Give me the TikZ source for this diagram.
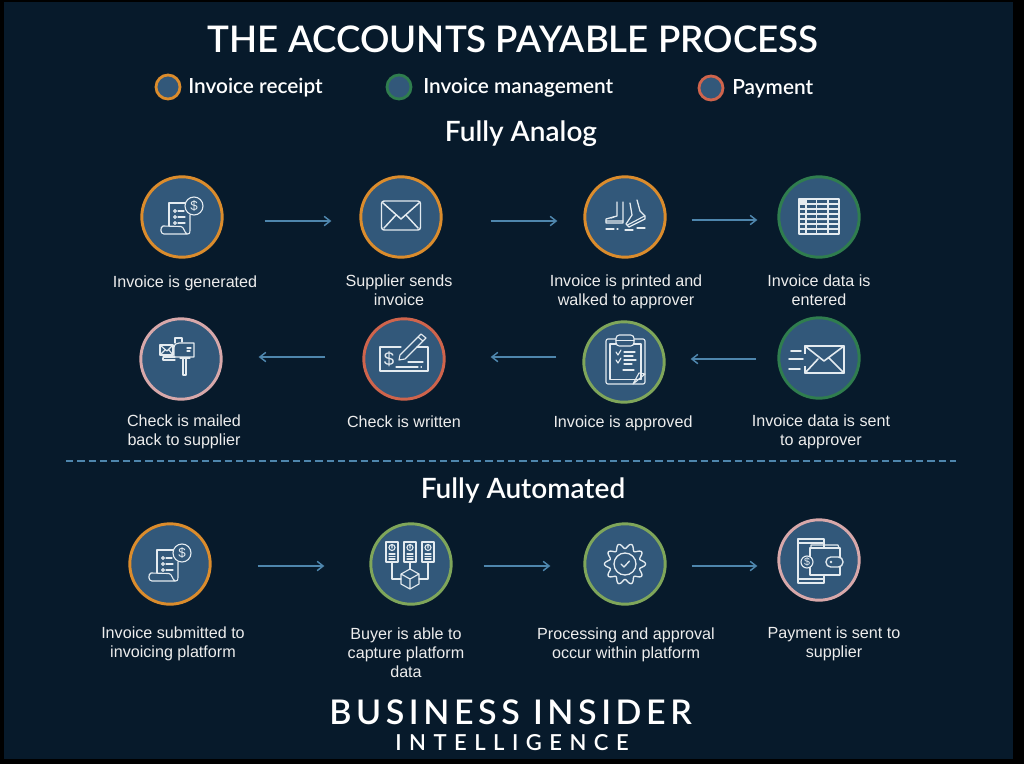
\documentclass[tikz,border=0pt]{standalone}
\usepackage{fontspec}
\setmainfont{Liberation Sans}
\newfontfamily\headfont{Lato Semibold}
\newfontfamily\brandfont[LetterSpace=13.5]{Lato Semibold}
\newfontfamily\brandfontb[LetterSpace=34]{Lato Semibold}
\usetikzlibrary{arrows.meta,calc}
\definecolor{pagebg}{HTML}{071A2B}
\definecolor{discfill}{HTML}{32587A}
\definecolor{oran}{HTML}{DB8C2C}
\definecolor{dgreen}{HTML}{2F7D4E}
\definecolor{lgreen}{HTML}{7FA65A}
\definecolor{pinkc}{HTML}{D8A8AA}
\definecolor{redc}{HTML}{CF644C}
\definecolor{arrowc}{HTML}{4E86AD}
\definecolor{iconc}{HTML}{E4EBF0}
\tikzset{
  disc/.style={circle,draw=#1,fill=discfill,line width=2.2pt,minimum size=60.3pt,inner sep=0pt},
  legenddisc/.style={circle,draw=#1,fill=discfill,line width=2.1pt,minimum size=18pt,inner sep=0pt},
  flow/.style={draw=arrowc,line width=1.1pt,-{Straight Barb[length=4.5pt,width=7pt,line width=1.1pt]}},
  lab/.style={text=white!93!black,align=center,font=\fontsize{12.1}{14.3}\selectfont,inner sep=0pt},
  legendt/.style={text=white,anchor=west,inner sep=0pt,font=\headfont\fontsize{15.6}{18}\selectfont},
  head/.style={text=white,inner sep=0pt,font=\headfont\fontsize{21}{24}\selectfont},
  ic/.style={draw=iconc,line width=0.85pt,line cap=round,line join=round},
  dollar/.style={text=iconc,inner sep=0pt},
}
\newcommand{\icinvoice}[1]{%
  \draw[ic] (3,-14) -- (-13,-14) -- (-13,9);
  \draw[ic] (-19,9) .. controls (-22,10) and (-22,17) .. (-18,17) -- (5,17) .. controls (2,15) and (2,10) .. (-1,9.5) -- (-19,9);
  \draw[ic] (5,17) .. controls (7,18) and (8,16) .. (8,13) -- (8,-2);
  \draw[ic] (-7,-6) circle[radius=1.4] (-7,0) circle[radius=1.4] (-7,6) circle[radius=1.4];
  \draw[ic] (-4,-6) -- (2,-6) (-4,0) -- (3,0) (-4,6) -- (3,6);
  \draw[ic,fill=discfill] (12,-11) circle[radius=9];
  \node[dollar,font=\fontsize{10}{10}\selectfont] (#1) at (12,-11) {\$};
}
\newcommand{\icenvelope}{%
  \draw[ic,line width=1.1pt,rounded corners=2pt] (-19.5,-16) rectangle (19.5,13);
  \draw[ic,line width=1.1pt] (-18,-14) -- (0,2) -- (18,-14) (-17,11) -- (-5,-2) (17,11) -- (5,-2);
}
\newcommand{\icshoes}{%
  \draw[ic,line width=0.95pt] (-8,-15) -- (-8,-1) -- (-19,2) -- (-19,6) -- (-2,6) -- (-2,-15);
  \draw[ic] (-19,4) -- (-2,4) (-14,1) -- (-11,0);
  \draw[ic,line width=0.95pt] (5,-14) -- (7,-2) -- (1,7) -- (4,10) -- (20,2) -- (20,-1) -- (15,-6) -- (12,-17);
  \draw[ic] (2.5,8) -- (19.5,-1);
  \draw[ic] (-19,12) -- (-11,12) (-8,12) -- (-7,12) (0,13) -- (8,13) (12,11) -- (20,11);
}
\newcommand{\ictable}{%
  \draw[ic] (-20,-18) rectangle (20,17);
  \foreach \yy in {-13,-8,-3,2,7,12} {\draw[ic] (-20,\yy) -- (20,\yy);}
  \draw[ic] (-13,-18) -- (-13,17) (-2.5,-18) -- (-2.5,17) (9,-18) -- (9,17);
  \fill[iconc] (-20,-18) rectangle (-13,-13);
  \fill[iconc] (-11.5,1) rectangle (-4,3) (-1,1) rectangle (7.5,3) (10.5,1) rectangle (19,3);
}
\newcommand{\icmailbox}{%
  \draw[ic] (-7,-2) -- (-7,-11) .. controls (-7,-15) and (-4,-16) .. (-2,-16) -- (13,-16) -- (13,-2) -- cycle;
  \draw[ic] (-6,-16) -- (-6,-21) -- (1,-21) -- (1,-17);
  \draw[ic] (6,-11) -- (10,-11) (6,-8) -- (9,-8);
  \draw[ic] (2,-1) -- (2,16) -- (5,16) -- (5,-1);
  \draw[ic] (-1,-1) -- (9,-1);
  \draw[ic,fill=discfill] (-21,-14) rectangle (-8,-4);
  \draw[ic] (-21,-14) -- (-14,-8) -- (-8,-14) (-21,-4) -- (-16,-9) (-8,-4) -- (-12,-9);
  \draw[ic] (-18,-2) -- (-6,-2) (-18,-1) -- (-18,1) -- (-6,1);
}
\newcommand{\iccheck}[1]{%
  \draw[ic] (-3,-12) -- (-24,-12) -- (-24,12) -- (24,12) -- (24,-12) -- (13,-12);
  \node[dollar,font=\fontsize{14}{14}\selectfont] (#1) at (-15,0) {\$};
  \draw[ic] (-5,1) -- (-4,-4) -- (17,-25) -- (22,-21) -- (1,0) -- cycle (14,-22) -- (19,-18);
  \draw[ic] (4,3) -- (19,3) (-8,8) -- (14,8) (17,8) -- (17.5,8);
}
\newcommand{\icclipboard}{%
  \draw[ic,rounded corners=1.5pt] (-8,-23) -- (-18,-23) -- (-18,22) -- (21,22) -- (21,-23) -- (10,-23);
  \draw[ic] (-14,-18) rectangle (17,17.5);
  \draw[ic,rounded corners=2.5pt,fill=discfill] (-8,-27) rectangle (10,-16);
  \draw[ic] (-8,-21.5) -- (10,-21.5);
  \draw[ic] (-8,-10) -- (-6,-7) -- (-3,-12) (-8,-2) -- (-6,1) -- (-3,-4);
  \draw[ic] (0,-10) -- (11,-10) (0,-6) -- (9,-6) (0,-2) -- (12,-2) (0,2) -- (8,2) (-1,8) -- (10,8);
  \draw[ic] (9,22) -- (15,11) -- (21,12) (9,22) -- (21,12);
}
\newcommand{\icspeedy}{%
  \draw[ic,line width=1.2pt] (-14,-12) rectangle (25,15);
  \draw[ic,line width=1.2pt] (-14,-12) -- (5,3) -- (25,-12) (-14,15) -- (-1,1) (25,15) -- (10,0);
  \fill[discfill] (-17,-4) rectangle (-12,8);
  \draw[ic,line width=1.2pt] (-28,-7) -- (-18,-7) (-30,1) -- (-16,1) (-30,11) -- (-19,11);
}
\newcommand{\icservers}{%
  \foreach \xx in {-19,-1,17}{
    \draw[ic] (\xx-6,-22) rectangle (\xx+6,-2);
    \draw[ic] (\xx,-16.5) circle[radius=3] (\xx,-18) -- (\xx,-16);
    \draw[ic] (\xx-3,-10) -- (\xx+3,-10) (\xx-3,-7.5) -- (\xx+3,-7.5) (\xx-3,-5) -- (\xx+3,-5);
  }
  \draw[ic] (-19,-2) -- (-19,15) -- (-10,15) (17,-2) -- (17,15) -- (8,15) (-1,-2) -- (-1,5);
  \draw[ic] (-1,5) -- (-10,10) -- (-10,20) -- (-1,25) -- (8,20) -- (8,10) -- cycle (-10,10) -- (-1,15) -- (8,10) (-1,15) -- (-1,25);
}
\newcommand{\icgear}{%
  \draw[ic,line width=1pt,smooth,domain=0:360,samples=121] plot ({(18+2.6*cos(10*\x))*cos(\x)},{(18+2.6*cos(10*\x))*sin(\x)}) -- cycle;
  \draw[ic,line width=1pt] (0,0) circle[radius=11];
  \draw[ic,line width=1pt] (-4,0) -- (-1,3) -- (4.5,-3);
}
\newcommand{\icwallet}[1]{%
  \draw[ic,line width=1pt] (-21,-21) rectangle (5,23);
  \draw[ic] (-21,-17) -- (5,-17) (-21,19) -- (5,19);
  \draw[ic,line width=1pt,fill=discfill] (-9,-12) rectangle (21,15);
  \draw[ic] (-8,-12) -- (-8,-15) -- (19,-15) -- (20,-12);
  \draw[ic,line width=1pt,rounded corners=3.5pt,fill=discfill] (24,-3) rectangle (7,7);
  \fill[iconc] (12,2) circle[radius=1.4];
  \draw[ic,fill=discfill] (-12,2) circle[radius=6];
  \node[dollar,font=\fontsize{8}{8}\selectfont] (#1) at (-12,2) {\$};
}
\begin{document}
\begin{tikzpicture}[x=0.75pt,y=-0.75pt]
\useasboundingbox (0,0) rectangle (1024,764);
\fill[black] (0,0) rectangle (1024,764);
\fill[pagebg] (4,2) rectangle (1013,759);

\node[text=white,inner sep=0pt,font=\headfont\fontsize{27.5}{30}\selectfont] (title) at (513,39) {THE ACCOUNTS PAYABLE PROCESS};

\node[legenddisc=oran] (lg1) at (168,87) {};
\node[legendt] (lgt1) at (188,88) {Invoice receipt};
\node[legenddisc=dgreen] (lg2) at (399,87) {};
\node[legendt] (lgt2) at (423,88) {Invoice management};
\node[legenddisc=redc] (lg3) at (711,88) {};
\node[legendt] (lgt3) at (732,89) {Payment};

\node[head] (h1) at (521,133.5) {Fully Analog};
\node[head] (h2) at (523,491) {Fully Automated};

% row 1
\node[disc=oran] (a1) at (182,217) {};
\node[disc=oran] (a2) at (401,217) {};
\node[disc=oran] (a3) at (625,217) {};
\node[disc=dgreen] (a4) at (819,217) {};
% row 2
\node[disc=pinkc] (b1) at (181,359) {};
\node[disc=redc] (b2) at (404,359) {};
\node[disc=lgreen] (b3) at (624,362) {};
\node[disc=dgreen] (b4) at (819,358) {};
% row 3
\node[disc=oran] (c1) at (170,564) {};
\node[disc=lgreen] (c2) at (411,564) {};
\node[disc=lgreen] (c3) at (625,564) {};
\node[disc=pinkc] (c4) at (819,560) {};

\begin{scope}[shift={(a1.center)}]\icinvoice{d1}\end{scope}
\begin{scope}[shift={(a2.center)}]\icenvelope\end{scope}
\begin{scope}[shift={(a3.center)}]\icshoes\end{scope}
\begin{scope}[shift={(a4.center)}]\ictable\end{scope}
\begin{scope}[shift={(b1.center)}]\icmailbox\end{scope}
\begin{scope}[shift={(b2.center)}]\iccheck{d2}\end{scope}
\begin{scope}[shift={(b3.center)}]\icclipboard\end{scope}
\begin{scope}[shift={(b4.center)}]\icspeedy\end{scope}
\begin{scope}[shift={(c1.center)}]\icinvoice{d3}\end{scope}
\begin{scope}[shift={(c2.center)}]\icservers\end{scope}
\begin{scope}[shift={(c3.center)}]\icgear\end{scope}
\begin{scope}[shift={(c4.center)}]\icwallet{d4}\end{scope}

% connectors
\draw[flow] ([shift={(41,4)}]a1.east) -- ([shift={(-28,4)}]a2.west);
\draw[flow] ([shift={(48,4)}]a2.east) -- ([shift={(-26,4)}]a3.west);
\draw[flow] ([shift={(25,3)}]a3.east) -- ([shift={(-20,3)}]a4.west);
\draw[flow] ([shift={(-21,1)}]b4.west) -- ([shift={(25,-3)}]b3.east);
\draw[flow] ([shift={(-26,-5)}]b3.west) -- ([shift={(45,-2)}]b2.east);
\draw[flow] ([shift={(-37,-2)}]b2.west) -- ([shift={(36,-2)}]b1.east);
\draw[flow] ([shift={(46,2)}]c1.east) -- ([shift={(-45,2)}]c2.west);
\draw[flow] ([shift={(31,2)}]c2.east) -- ([shift={(-33,2)}]c3.west);
\draw[flow] ([shift={(25,2)}]c3.east) -- ([shift={(-20,6)}]c4.west);

\draw[arrowc,line width=1pt,dash pattern=on 5.5pt off 3pt] (66,461) coordinate (dl) -- (956,461) coordinate (dr);

% labels
\node[lab] (t1) at (185,283) {Invoice is generated};
\node[lab] (t2) at (399,290) {Supplier sends\\invoice};
\node[lab] (t3) at (626,292) {Invoice is printed and\\walked to approver};
\node[lab] (t4) at (819,290) {Invoice data is\\entered};
\node[lab] (t5) at (184,432) {Check is mailed\\back to supplier};
\node[lab] (t6) at (404,422) {Check is written};
\node[lab] (t7) at (623,423) {Invoice is approved};
\node[lab] (t8) at (821,432) {Invoice data is sent\\to approver};
\node[lab] (t9) at (173,644) {Invoice submitted to\\invoicing platform};
\node[lab] (t10) at (406,653) {Buyer is able to\\capture platform\\data};
\node[lab] (t11) at (626,645) {Processing and approval\\occur within platform};
\node[lab] (t12) at (834,644) {Payment is sent to\\supplier};

\node[text=white,inner sep=0pt,font=\brandfont\fontsize{25.5}{28}\selectfont] (br1) at (510.5,712) {BUSINESS INSIDER};
\node[text=white,inner sep=0pt,font=\brandfontb\fontsize{16.5}{18}\selectfont] (br2) at (512,743) {INTELLIGENCE};
\end{tikzpicture}
\end{document}
